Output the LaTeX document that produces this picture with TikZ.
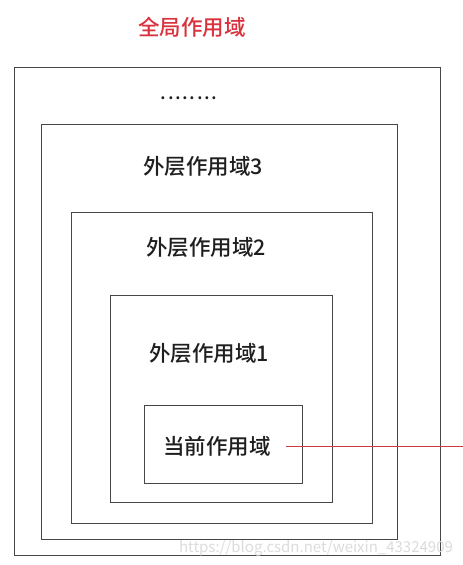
\documentclass[tikz,border=0pt]{standalone}
\usepackage{fontspec}
\setmainfont{Noto Sans CJK SC}[UprightFont=* Medium]
\newfontfamily\wmfont{Noto Sans CJK SC}
\definecolor{titlered}{RGB}{218,50,60}
\definecolor{boxline}{RGB}{70,70,70}
\definecolor{linkred}{RGB}{205,60,65}
\definecolor{wmark}{RGB}{220,220,220}
\newcommand{\dt}{.\kern1.6pt}
\begin{document}
\begin{tikzpicture}[x=1pt,y=-1pt,
  scopebox/.style={draw=boxline,line width=0.9pt,fill=none},
  lbl/.style={font=\fontsize{21.5}{25}\selectfont,text=black!88,inner sep=0pt,anchor=center}]
\useasboundingbox (0,0) rectangle (463,565);
\path[fill=white] (0,0) rectangle (463,565);
% boxes
\draw[scopebox] (14,67) rectangle (440,555);
\draw[scopebox] (41,124) rectangle (397,539);
\draw[scopebox] (71,212) rectangle (372,523);
\draw[scopebox] (110,295) rectangle (332,502);
\draw[scopebox] (144,405) rectangle (302,483);
% labels
\node[lbl,font=\fontsize{19}{22}\selectfont] (dots) at (189,98) {\dt\dt\dt\dt\dt\dt\dt.};
\node[lbl,text=titlered] (title) at (192,27) {全局作用域};
\node[lbl] (l3) at (203,166) {外层作用域3};
\node[lbl] (l2) at (206,247) {外层作用域2};
\node[lbl] (l1) at (209,353) {外层作用域1};
\node[lbl] (cur) at (217,446) {当前作用域};
\coordinate (rend) at (463,446);
\draw[linkred,line width=0.8pt] (cur.east) ++(15pt,0) -- (rend);
\node[font=\wmfont\fontsize{15}{18}\selectfont,text=wmark,inner sep=0pt] (wm) at (316,548) {https://blog.csdn.net/weixin\_43324909};
\end{tikzpicture}
\end{document}
